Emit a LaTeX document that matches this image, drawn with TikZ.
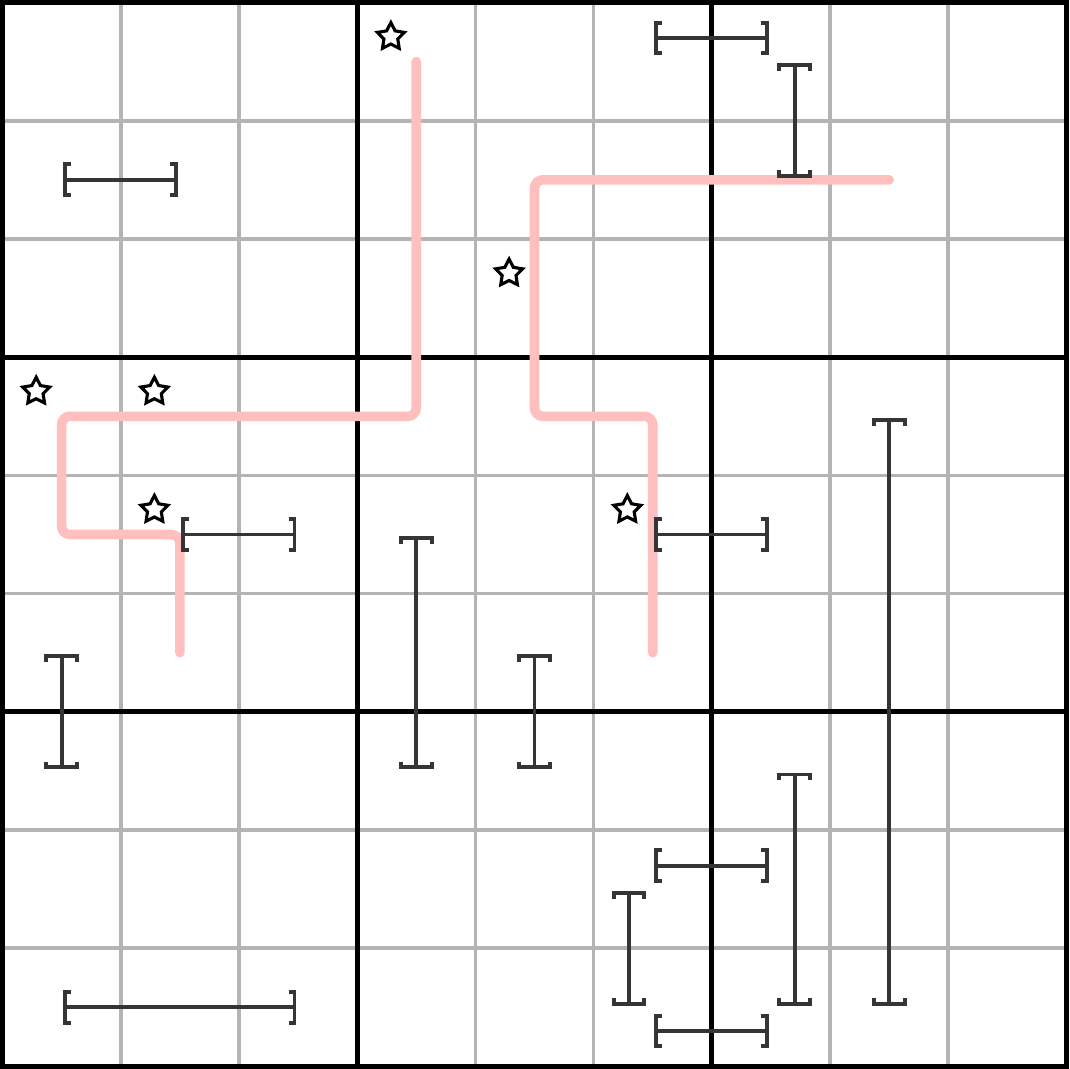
\documentclass[tikz,border=0pt]{standalone}
\usetikzlibrary{shapes.geometric}

\definecolor{pathpink}{HTML}{FFBFBF}
\definecolor{rangegray}{HTML}{353535}
\definecolor{gridgray}{HTML}{B4B4B4}

\tikzset{
    thin grid/.style={draw=gridgray, line width=0.9pt},
    box grid/.style={draw=black, line width=1.25pt},
    pinkpath/.style={draw=pathpink, line width=2.3pt, line cap=round, rounded corners=2pt},
    rangeline/.style={draw=rangegray, line width=0.95pt},
    starmark/.style={star, star points=5, star point ratio=1.95, draw=black, line width=0.75pt,
        fill=white, inner sep=0pt, minimum size=0.24cm}
}

% horizontal range: x1, x2, y
\newcommand{\HRange}[3]{%
    \draw[rangeline] (#1+0.03,#3) -- (#2-0.03,#3);
    \draw[rangeline] (#1+0.08,#3-0.13) -- (#1+0.03,#3-0.13) -- (#1+0.03,#3+0.13) -- (#1+0.08,#3+0.13);
    \draw[rangeline] (#2-0.08,#3-0.13) -- (#2-0.03,#3-0.13) -- (#2-0.03,#3+0.13) -- (#2-0.08,#3+0.13);
}
% vertical range: x, y1, y2
\newcommand{\VRange}[3]{%
    \draw[rangeline] (#1,#2+0.03) -- (#1,#3-0.03);
    \draw[rangeline] (#1-0.13,#2+0.08) -- (#1-0.13,#2+0.03) -- (#1+0.13,#2+0.03) -- (#1+0.13,#2+0.08);
    \draw[rangeline] (#1-0.13,#3-0.08) -- (#1-0.13,#3-0.03) -- (#1+0.13,#3-0.03) -- (#1+0.13,#3-0.08);
}

\begin{document}
\begin{tikzpicture}[x=1cm, y=-1cm]
    \useasboundingbox (-0.021,-0.021) rectangle (9.021,9.021);
    \fill[white] (-0.021,-0.021) rectangle (9.021,9.021);

    % Lưới ô nhỏ
    \foreach \i in {1,2,4,5,7,8} {
        \draw[thin grid] (\i,0) -- (\i,9);
        \draw[thin grid] (0,\i) -- (9,\i);
    }

    % Lưới khối 3x3
    \foreach \i in {3,6} {
        \draw[box grid] (\i,0) -- (\i,9);
        \draw[box grid] (0,\i) -- (9,\i);
    }
    \draw[box grid] (0,0) rectangle (9,9);

    % Đường màu hồng
    \draw[pinkpath] (3.5,0.5) -- (3.5,3.5) -- (0.5,3.5) -- (0.5,4.5) -- (1.5,4.5) -- (1.5,5.5);
    \draw[pinkpath] (7.5,1.5) -- (4.5,1.5) -- (4.5,3.5) -- (5.5,3.5) -- (5.5,5.5);

    % Các đoạn ngang
    \HRange{5.5}{6.5}{0.3}
    \HRange{0.5}{1.5}{1.5}
    \HRange{1.5}{2.5}{4.5}
    \HRange{5.5}{6.5}{4.5}
    \HRange{5.5}{6.5}{7.3}
    \HRange{0.5}{2.5}{8.5}
    \HRange{5.5}{6.5}{8.7}

    % Các đoạn dọc
    \VRange{6.7}{0.5}{1.5}
    \VRange{0.5}{5.5}{6.5}
    \VRange{3.5}{4.5}{6.5}
    \VRange{4.5}{5.5}{6.5}
    \VRange{7.5}{3.5}{8.5}
    \VRange{6.7}{6.5}{8.5}
    \VRange{5.3}{7.5}{8.5}

    % Ngôi sao
    \foreach \c/\r in {3/0, 4/2, 0/3, 1/3, 1/4, 5/4}
        \node[starmark] (star-\c-\r) at (\c+0.285,\r+0.29) {};
\end{tikzpicture}
\end{document}
